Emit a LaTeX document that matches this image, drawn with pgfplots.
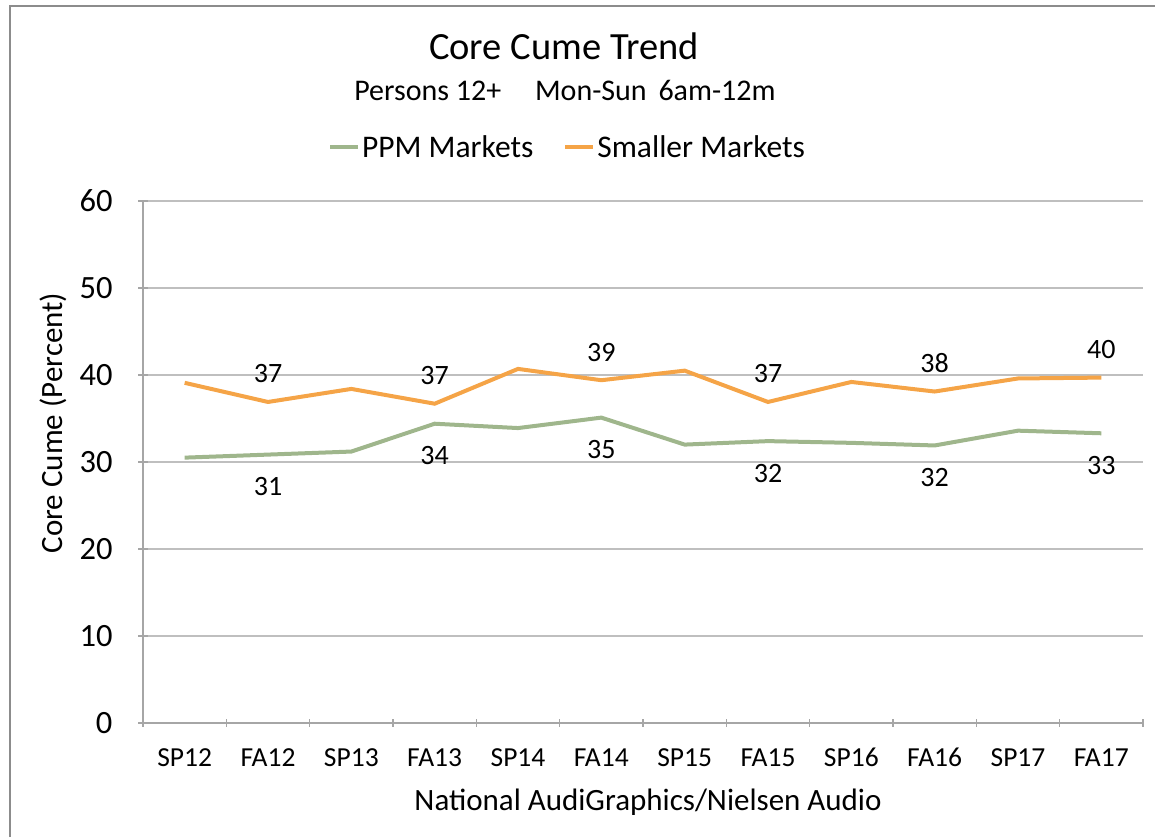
\documentclass[border=0pt]{standalone}
\usepackage{fontspec}
\setmainfont{Carlito}
\usepackage{pgfplots}
\pgfplotsset{compat=1.18}
\definecolor{ppmc}{HTML}{9FB68C}
\definecolor{smallc}{HTML}{F5A447}
\definecolor{gridc}{HTML}{BFBFBF}
\definecolor{axc}{HTML}{A6A6A6}
\definecolor{framec}{HTML}{8C8C8C}
\begin{document}
\begin{tikzpicture}[x=1pt,y=1pt]
\useasboundingbox (0,0) rectangle (1155,837);
\draw[framec, line width=1.5pt] (10,0) -- (10,831) -- (1155,831);
\begin{axis}[
  at={(143pt,114pt)}, anchor=south west,
  scale only axis, width=1000pt, height=522pt,
  xmin=0, xmax=12, ymin=0, ymax=60,
  ytick={0,10,...,60},
  xtick={0.5,1.5,...,11.5},
  xticklabels={SP12,FA12,SP13,FA13,SP14,FA14,SP15,FA15,SP16,FA16,SP17,FA17},
  minor xtick={0,1,...,12},
  tick align=outside,
  major tick length=10pt, minor tick length=8pt,
  every major x tick/.append style={draw=none},
  axis lines=left,
  axis line style={-, draw=axc, line width=1.3pt},
  tick style={draw=axc, line width=1.3pt},
  ymajorgrids, grid style={gridc, line width=1.3pt},
  yticklabel style={font=\fontsize{32.5}{38}\selectfont, xshift=-22pt},
  xticklabel style={font=\fontsize{27.5}{32}\selectfont, yshift=-17pt, text height=18pt, text depth=2pt},
  /pgf/number format/assume math mode=true,
  clip=false,
  legend style={at={(0.4245,1.1034)}, anchor=center, draw=none, fill=none,
    font=\fontsize{31.5}{36}\selectfont, legend columns=2,
    /tikz/every even column/.append style={column sep=28pt}},
  legend image code/.code={\draw[#1] (0pt,0pt) -- (28pt,0pt);},
]
\addplot[ppmc, line width=4pt] coordinates {
 (0.5,30.5) (1.5,30.85) (2.5,31.2) (3.5,34.4) (4.5,33.9) (5.5,35.1)
 (6.5,32.0) (7.5,32.4) (8.5,32.2) (9.5,31.9) (10.5,33.6) (11.5,33.3)};
\addlegendentry{PPM Markets}
\addplot[smallc, line width=4pt] coordinates {
 (0.5,39.1) (1.5,36.9) (2.5,38.4) (3.5,36.7) (4.5,40.7) (5.5,39.4)
 (6.5,40.5) (7.5,36.9) (8.5,39.2) (9.5,38.1) (10.5,39.6) (11.5,39.7)};
\addlegendentry{Smaller Markets}
\addplot[draw=none, forget plot, nodes near coords, point meta=explicit symbolic,
  every node near coord/.append style={anchor=center, yshift=-32pt, font=\fontsize{28}{33}\selectfont, black}]
  coordinates {(1.5,30.85)[31] (3.5,34.4)[34] (5.5,35.1)[35] (7.5,32.4)[32] (9.5,31.9)[32] (11.5,33.3)[33]};
\addplot[draw=none, forget plot, nodes near coords, point meta=explicit symbolic,
  every node near coord/.append style={anchor=center, yshift=28pt, font=\fontsize{28}{33}\selectfont, black}]
  coordinates {(1.5,36.9)[37] (3.5,36.7)[37] (5.5,39.4)[39] (7.5,36.9)[37] (9.5,38.1)[38] (11.5,39.7)[40]};
\end{axis}
\node[anchor=base, font=\fontsize{38.5}{46}\selectfont] at (564,777) {Core Cume Trend};
\node[anchor=base, font=\fontsize{30}{36}\selectfont] at (565,736) {Persons 12+\hspace{0.9em} Mon-Sun\, 6am-12m};
\node[anchor=base, font=\fontsize{31}{36}\selectfont] at (648,27) {National AudiGraphics/Nielsen Audio};
\node[anchor=base, rotate=90, font=\fontsize{31}{36}\selectfont] at (62,414) {Core Cume (Percent)};
\end{tikzpicture}
\end{document}
